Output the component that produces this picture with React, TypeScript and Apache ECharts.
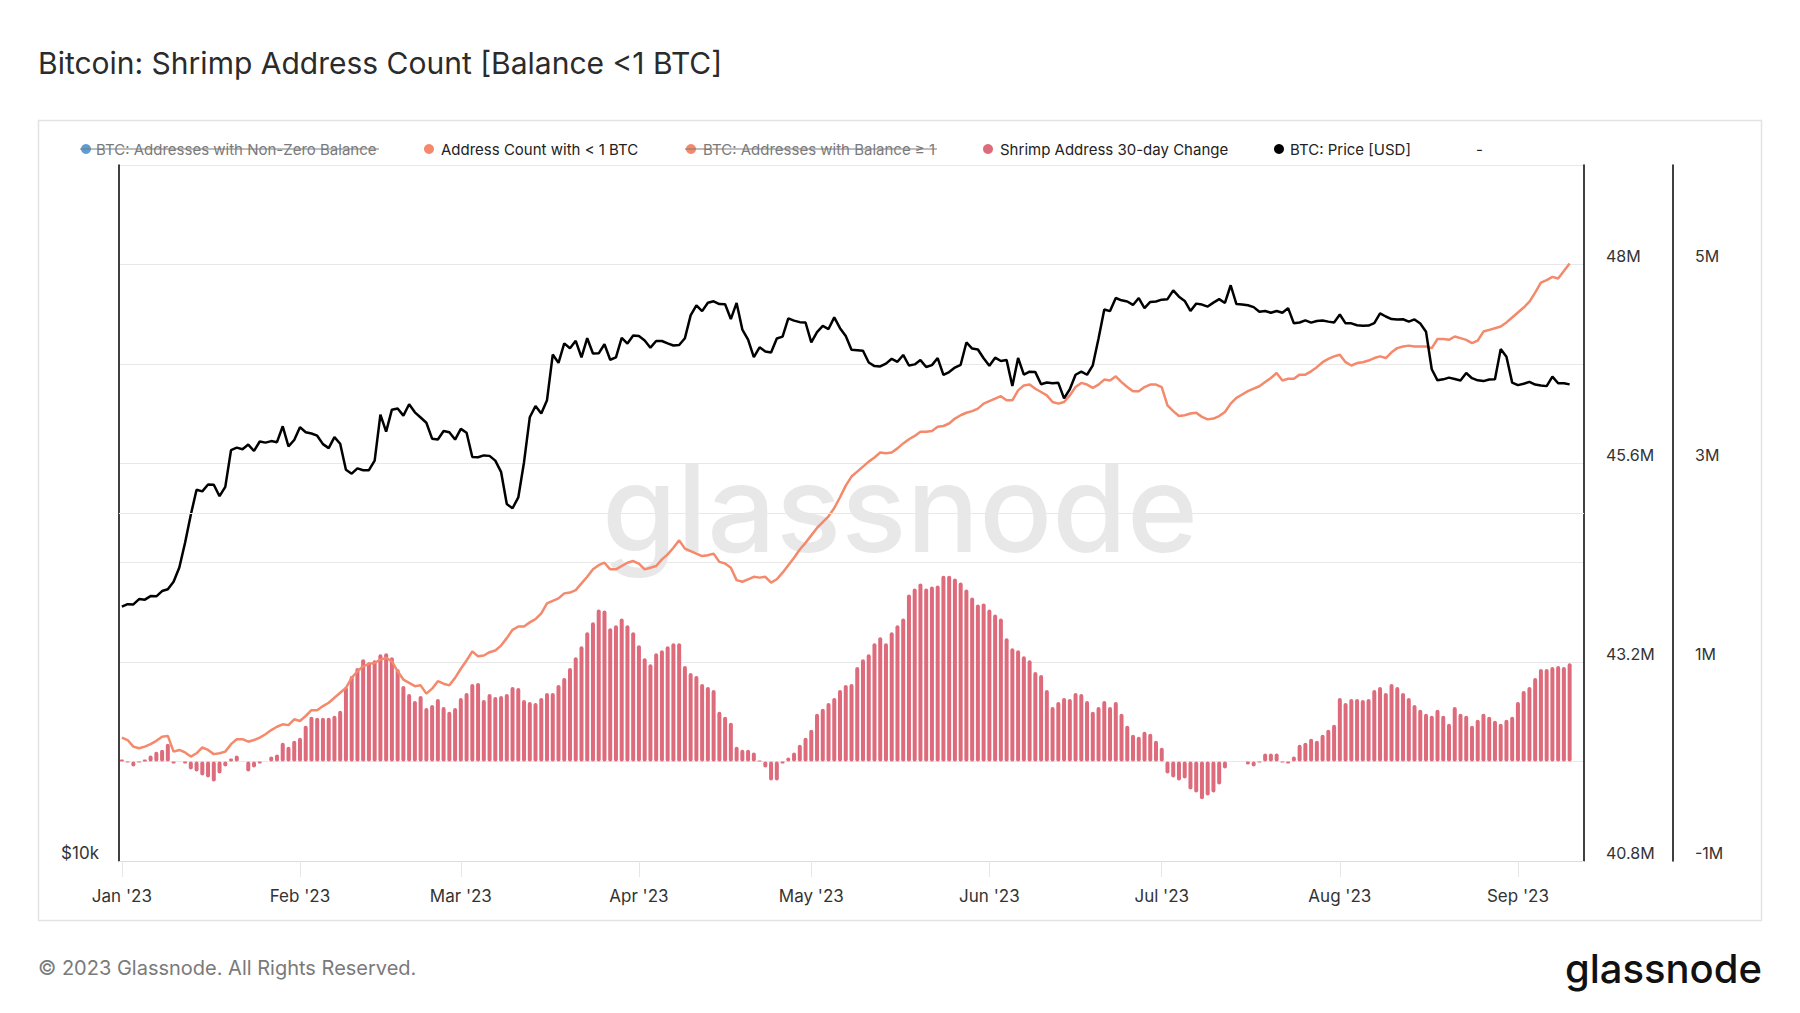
import React, { useEffect, useRef } from "react";
import * as echarts from "echarts";

// ---- Data (daily, 1 Jan 2023 .. 10 Sep 2023) ----
const START_DATE = Date.UTC(2023, 0, 1);
const AXIS_DAYS = 255; // axis runs two days past last data point
const MONTHS = ["Jan", "Feb", "Mar", "Apr", "May", "Jun", "Jul", "Aug", "Sep", "Oct", "Nov", "Dec"];

const categories: string[] = Array.from({ length: AXIS_DAYS }, (_, i) =>
  new Date(START_DATE + i * 86400000).toISOString().slice(0, 10)
);

// BTC price [USD]
const priceUsd: number[] = [
  // Jan
  16600, 16680, 16670, 16850, 16830, 16950, 16940, 17120, 17180, 17440, 17940, 18850, 19930, 20950, 20880, 21170,
  21160, 20680, 21070, 22670, 22780, 22710, 22920, 22630, 23060, 23010, 23080, 23030, 23770, 22840, 23130,
  // Feb
  23730, 23490, 23430, 23330, 22940, 22760, 23260, 22960, 21800, 21630, 21860, 21780, 21780, 22200, 24330, 23520,
  24570, 24630, 24280, 24840, 24440, 24190, 23940, 23190, 23150, 23550, 23490, 23150,
  // Mar
  23650, 23470, 22360, 22350, 22430, 22410, 22200, 21710, 20360, 20190, 20630, 22130, 24200, 24750, 24380, 25040,
  27420, 26970, 28040, 27770, 28180, 27270, 28330, 27480, 27490, 27990, 27140, 27270, 28350, 28030, 28480,
  // Apr
  28450, 28200, 27800, 28170, 28170, 28040, 27920, 27950, 28330, 29650, 30240, 29900, 30400, 30490, 30320, 30310,
  29430, 30390, 28820, 28250, 27280, 27820, 27590, 27530, 28310, 28420, 29470, 29340, 29250, 29230,
  // May
  28090, 28680, 29030, 28850, 29530, 28900, 28450, 27690, 27660, 27630, 26990, 26800, 26780, 26930, 27190, 27030,
  27400, 26830, 26890, 27120, 26750, 26850, 27230, 26330, 26480, 26720, 26870, 28090, 27750, 27700, 27220,
  // Jun
  26820, 27250, 27070, 27120, 25760, 27240, 26350, 26500, 26480, 25850, 25940, 25900, 25920, 25130, 25590, 26340,
  26500, 26340, 26840, 28310, 30000, 29900, 30690, 30550, 30480, 30270, 30690, 30080, 30450, 30480,
  // Jul
  30590, 30620, 31160, 30770, 30510, 29910, 30350, 30290, 30170, 30410, 30620, 30390, 31480, 30320, 30300, 30250,
  30140, 29860, 29910, 29800, 29910, 29800, 30080, 29180, 29230, 29350, 29220, 29320, 29350, 29280, 29230,
  // Aug
  29700, 29180, 29180, 29070, 29040, 29050, 29190, 29770, 29580, 29430, 29400, 29420, 29280, 29410, 29170, 28700,
  26630, 26050, 26100, 26190, 26120, 26040, 26430, 26160, 26050, 26010, 26090, 26100, 27720, 27300, 25930,
  // Sep
  25800, 25870, 25970, 25830, 25780, 25750, 26240, 25900, 25900, 25840,
];

// Address count with < 1 BTC [millions]
const shrimpCountM: number[] = [
  42.29, 42.26, 42.18, 42.16, 42.18, 42.21, 42.25, 42.3, 42.31, 42.12, 42.14, 42.11, 42.06, 42.1, 42.17, 42.14,
  42.09, 42.1, 42.12, 42.21, 42.27, 42.27, 42.24, 42.26, 42.29, 42.33, 42.38, 42.42, 42.45, 42.44, 42.51, 42.49,
  42.55, 42.62, 42.62, 42.67, 42.71, 42.77, 42.83, 42.89, 43.01, 43.09, 43.15, 43.18, 43.19, 43.23, 43.25, 43.21,
  43.09, 42.99, 42.95, 42.91, 42.92, 42.82, 42.88, 42.97, 42.94, 42.92, 43.01, 43.12, 43.22, 43.33, 43.27, 43.28,
  43.32, 43.34, 43.4, 43.49, 43.59, 43.63, 43.63, 43.68, 43.72, 43.79, 43.91, 43.94, 43.97, 44.03, 44.04, 44.07,
  44.15, 44.23, 44.32, 44.37, 44.4, 44.32, 44.32, 44.36, 44.4, 44.42, 44.39, 44.32, 44.34, 44.36, 44.44, 44.5,
  44.58, 44.67, 44.57, 44.54, 44.51, 44.48, 44.49, 44.51, 44.41, 44.39, 44.34, 44.19, 44.17, 44.2, 44.23, 44.22,
  44.23, 44.16, 44.2, 44.28, 44.37, 44.46, 44.56, 44.64, 44.73, 44.82, 44.89, 44.96, 45.06, 45.19, 45.33, 45.44,
  45.5, 45.56, 45.62, 45.67, 45.73, 45.72, 45.73, 45.78, 45.84, 45.89, 45.93, 45.98, 45.98, 45.99, 46.04, 46.05,
  46.08, 46.14, 46.18, 46.21, 46.23, 46.26, 46.32, 46.35, 46.38, 46.41, 46.36, 46.36, 46.48, 46.54, 46.55, 46.5,
  46.46, 46.42, 46.34, 46.32, 46.34, 46.42, 46.52, 46.57, 46.55, 46.51, 46.55, 46.61, 46.6, 46.65, 46.58, 46.52,
  46.47, 46.47, 46.52, 46.55, 46.55, 46.52, 46.3, 46.23, 46.17, 46.18, 46.2, 46.21, 46.16, 46.13, 46.14, 46.17,
  46.22, 46.32, 46.39, 46.43, 46.47, 46.5, 46.53, 46.58, 46.63, 46.69, 46.6, 46.62, 46.62, 46.67, 46.67, 46.71,
  46.76, 46.82, 46.86, 46.89, 46.91, 46.82, 46.78, 46.81, 46.82, 46.84, 46.87, 46.89, 46.87, 46.94, 46.99, 47.01,
  47.02, 47.01, 47.01, 47.01, 46.99, 47.1, 47.1, 47.09, 47.13, 47.11, 47.09, 47.05, 47.08, 47.19, 47.21, 47.23,
  47.25, 47.3, 47.36, 47.42, 47.48, 47.55, 47.66, 47.78, 47.81, 47.85, 47.83, 47.92, 48.01,
];

// Shrimp address 30-day change [millions]
const change30dM: number[] = [
  0.02, -0.01, -0.05, -0.01, 0.02, 0.06, 0.1, 0.12, 0.18, -0.02, 0.0, -0.02, -0.08, -0.1, -0.14, -0.16,
  -0.2, -0.12, -0.05, 0.03, 0.06, 0.0, -0.1, -0.06, -0.02, 0.0, 0.05, 0.07, 0.19, 0.15, 0.21, 0.24,
  0.36, 0.45, 0.44, 0.44, 0.44, 0.46, 0.51, 0.75, 0.86, 0.94, 1.03, 1.0, 1.02, 1.08, 1.09, 1.05,
  0.93, 0.76, 0.68, 0.61, 0.66, 0.54, 0.57, 0.63, 0.55, 0.5, 0.54, 0.64, 0.69, 0.78, 0.79, 0.62,
  0.68, 0.65, 0.66, 0.68, 0.75, 0.74, 0.62, 0.6, 0.59, 0.64, 0.69, 0.69, 0.77, 0.84, 0.94, 1.05,
  1.16, 1.3, 1.4, 1.53, 1.52, 1.34, 1.37, 1.44, 1.37, 1.3, 1.17, 1.04, 0.98, 1.09, 1.12, 1.16,
  1.19, 1.19, 0.96, 0.89, 0.86, 0.78, 0.75, 0.72, 0.5, 0.45, 0.39, 0.15, 0.12, 0.12, 0.09, 0.01,
  -0.06, -0.19, -0.19, -0.02, 0.04, 0.09, 0.17, 0.24, 0.32, 0.48, 0.53, 0.59, 0.64, 0.72, 0.77, 0.78,
  0.95, 1.03, 1.08, 1.19, 1.25, 1.19, 1.3, 1.37, 1.44, 1.68, 1.74, 1.79, 1.74, 1.76, 1.77, 1.87,
  1.87, 1.84, 1.8, 1.73, 1.65, 1.58, 1.59, 1.53, 1.48, 1.44, 1.24, 1.14, 1.12, 1.06, 1.02, 0.9,
  0.87, 0.72, 0.55, 0.6, 0.64, 0.63, 0.69, 0.68, 0.61, 0.5, 0.55, 0.61, 0.55, 0.6, 0.48, 0.36,
  0.27, 0.25, 0.3, 0.28, 0.21, 0.14, -0.12, -0.16, -0.19, -0.17, -0.28, -0.31, -0.38, -0.34, -0.31, -0.23,
  -0.07, 0.0, 0.0, 0.0, -0.03, -0.05, -0.01, 0.08, 0.08, 0.08, -0.01, -0.02, 0.05, 0.17, 0.19, 0.23,
  0.21, 0.27, 0.32, 0.37, 0.64, 0.59, 0.63, 0.63, 0.62, 0.63, 0.72, 0.75, 0.69, 0.78, 0.75, 0.69,
  0.64, 0.57, 0.52, 0.48, 0.46, 0.52, 0.46, 0.38, 0.55, 0.48, 0.46, 0.36, 0.42, 0.48, 0.45, 0.41,
  0.38, 0.42, 0.45, 0.6, 0.71, 0.75, 0.84, 0.93, 0.93, 0.95, 0.96, 0.95, 0.99,
];

const legendItems = [
  { name: "BTC: Addresses with Non-Zero Balance", color: "#5d9cd4", disabled: true },
  { name: "Address Count with < 1 BTC", color: "#f4896b", disabled: false },
  { name: "BTC: Addresses with Balance ≥ 1", color: "#f4896b", disabled: true },
  { name: "Shrimp Address 30-day Change", color: "#dd6b7b", disabled: false },
  { name: "BTC: Price [USD]", color: "#000000", disabled: false },
];

const FONT = "Inter, 'Noto Sans', sans-serif";

export default function App() {
  const ref = useRef<HTMLDivElement>(null);

  useEffect(() => {
    if (!ref.current) return;
    const chart = echarts.init(ref.current, undefined, { renderer: "svg" });

    const isMonthStart = (_i: number, v: string) => typeof v === "string" && v.endsWith("-01");

    // legend layout (positions only)
    const legendPos = [
      { dot: 86, text: 96, strikeEnd: 379 },
      { dot: 429, text: 441 },
      { dot: 691, text: 703, strikeEnd: 937 },
      { dot: 988, text: 1000 },
      { dot: 1279, text: 1290 },
    ];
    const legendY = 149;
    const legendGraphics: any[] = [];
    legendItems.forEach((it, i) => {
      const p = legendPos[i];
      legendGraphics.push({
        type: "circle",
        shape: { cx: p.dot, cy: legendY, r: 5 },
        style: { fill: it.color },
        silent: true,
      });
      legendGraphics.push({
        type: "text",
        x: p.text,
        y: legendY,
        style: {
          text: it.name,
          fill: it.disabled ? "#7a7a7a" : "#222",
          font: `15px ${FONT}`,
          textAlign: "left",
          textVerticalAlign: "middle",
        },
        silent: true,
      });
      if (it.disabled && p.strikeEnd) {
        legendGraphics.push({
          type: "line",
          shape: { x1: p.dot - 6, y1: legendY, x2: p.strikeEnd, y2: legendY },
          style: { stroke: "#7a7a7a", lineWidth: 1 },
          silent: true,
          z: 10,
        });
      }
    });
    legendGraphics.push({
      type: "text",
      x: 1476,
      y: legendY,
      style: { text: "-", fill: "#222", font: `15px ${FONT}`, textAlign: "left", textVerticalAlign: "middle" },
      silent: true,
    });

    const option: any = {
      animation: false,
      backgroundColor: "#ffffff",
      textStyle: { fontFamily: FONT },
      grid: { left: 119, right: 216, top: 165, bottom: 152, containLabel: false },
      xAxis: {
        type: "category",
        data: categories,
        boundaryGap: true,
        axisLine: { show: true, onZero: false, lineStyle: { color: "#dcdcdc", width: 1 } },
        axisTick: {
          show: true,
          alignWithLabel: true,
          interval: isMonthStart,
          length: 16,
          lineStyle: { color: "#e6e6e6", width: 1 },
        },
        axisLabel: {
          interval: isMonthStart,
          formatter: (v: string) => `${MONTHS[parseInt(v.slice(5, 7), 10) - 1]} '23`,
          margin: 26,
          color: "#333",
          fontSize: 17,
          fontFamily: FONT,
        },
        splitLine: { show: false },
      },
      yAxis: [
        {
          type: "log",
          logBase: 10,
          min: 10000,
          max: 40000,
          position: "left",
          axisLine: { show: true, lineStyle: { color: "#000", width: 1.5 } },
          axisTick: { show: false },
          axisLabel: {
            formatter: (v: number) => (Math.abs(v - 10000) < 1 ? "$10k" : ""),
            verticalAlign: "bottom",
            margin: 20,
            color: "#333",
            fontSize: 17,
            fontFamily: FONT,
          },
          splitLine: { show: false },
        },
        {
          type: "value",
          min: 40.8e6,
          max: 49.2e6,
          interval: 2.4e6,
          position: "right",
          offset: 0,
          axisLine: { show: true, lineStyle: { color: "#000", width: 1.5 } },
          axisTick: { show: false },
          axisLabel: {
            formatter: (v: number) => (v > 48.5e6 ? "" : `${Math.round(v / 1e5) / 10}M`),
            verticalAlign: "bottom",
            align: "left",
            margin: 22,
            color: "#333",
            fontSize: 16,
            fontFamily: FONT,
          },
          splitLine: { show: false },
        },
        {
          type: "value",
          min: -1e6,
          max: 6e6,
          interval: 1e6,
          position: "right",
          offset: 89,
          axisLine: { show: true, lineStyle: { color: "#000", width: 1.5 } },
          axisTick: { show: false },
          axisLabel: {
            formatter: (v: number) => {
              const m = Math.round(v / 1e6);
              return m % 2 !== 0 ? `${m}M` : "";
            },
            verticalAlign: "bottom",
            align: "left",
            margin: 22,
            color: "#333",
            fontSize: 16,
            fontFamily: FONT,
          },
          splitLine: { show: true, lineStyle: { color: "#e8e8e8", width: 1 } },
        },
      ],
      graphic: [
        {
          type: "rect",
          shape: { x: 38.5, y: 120.5, width: 1723, height: 800 },
          style: { fill: "none", stroke: "#e3e3e3", lineWidth: 1.5 },
          silent: true,
          z: -10,
        },
        {
          type: "text",
          x: 38,
          y: 63,
          style: {
            text: "Bitcoin: Shrimp Address Count [Balance <1 BTC]",
            fill: "#2b2b2b",
            font: `400 30px ${FONT}`,
            textAlign: "left",
            textVerticalAlign: "middle",
          },
          silent: true,
        },
        {
          type: "text",
          x: 900,
          y: 508,
          style: {
            text: "glassnode",
            fill: "rgba(0,0,0,0.09)",
            font: `500 121px ${FONT}`,
            textAlign: "center",
            textVerticalAlign: "middle",
          },
          silent: true,
          z: -5,
        },
        {
          type: "text",
          x: 38,
          y: 968,
          style: {
            text: "© 2023 Glassnode. All Rights Reserved.",
            fill: "#7a7a7a",
            font: `20px ${FONT}`,
            textAlign: "left",
            textVerticalAlign: "middle",
          },
          silent: true,
        },
        {
          type: "text",
          x: 1762,
          y: 968,
          style: {
            text: "glassnode",
            fill: "#111",
            font: `500 40px ${FONT}`,
            textAlign: "right",
            textVerticalAlign: "middle",
          },
          silent: true,
        },
        ...legendGraphics,
      ],
      series: [
        {
          name: "_grid20k",
          type: "line",
          yAxisIndex: 0,
          data: [],
          z: 0,
          silent: true,
          markLine: {
            silent: true,
            symbol: ["none", "none"],
            label: { show: false },
            lineStyle: { color: "#e8e8e8", width: 1, type: "solid" },
            data: [{ yAxis: 20000 }],
          },
        },
        {
          name: "Shrimp Address 30-day Change",
          type: "bar",
          yAxisIndex: 2,
          data: change30dM.map((v) => v * 1e6),
          barWidth: 4,
          itemStyle: { color: "#dd6b7b", borderRadius: 2 },
          z: 2,
        },
        {
          name: "Address Count with < 1 BTC",
          type: "line",
          yAxisIndex: 1,
          data: shrimpCountM.map((v) => v * 1e6),
          symbol: "none",
          lineStyle: { color: "#f4896b", width: 2.5 },
          z: 3,
        },
        {
          name: "BTC: Price [USD]",
          type: "line",
          yAxisIndex: 0,
          data: priceUsd,
          symbol: "none",
          lineStyle: { color: "#000", width: 2.5 },
          z: 4,
        },
      ],
    };

    chart.setOption(option);
    return () => chart.dispose();
  }, []);

  return (
    <div
      ref={ref}
      style={{ position: "fixed", left: 0, top: 0, width: 1800, height: 1013, background: "#fff" }}
    />
  );
}
